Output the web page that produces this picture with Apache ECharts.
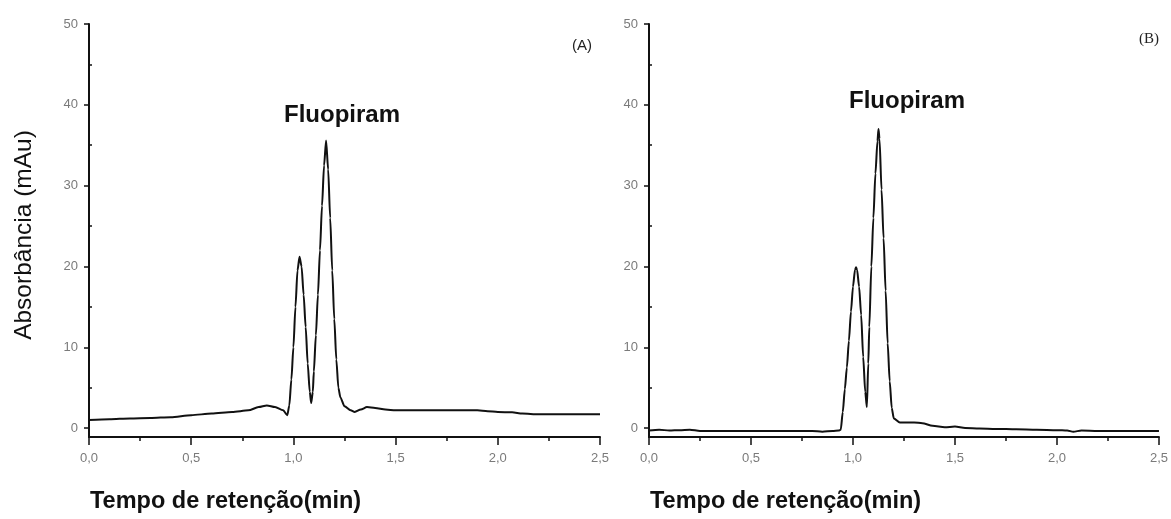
<!DOCTYPE html>
<html>
<head>
<meta charset="utf-8">
<script src="https://cdn.jsdelivr.net/npm/echarts@6/dist/echarts.min.js"></script>
<style>html,body{margin:0;padding:0;background:#fff}#c{width:1171px;height:519px}</style>
</head>
<body>
<div id="c"></div>
<script>
// Chromatogram (A): [retention time (min), absorbance (mAu)]
const seriesA = [
  [0.00,1.0],[0.10,1.1],[0.20,1.2],[0.30,1.25],[0.40,1.35],[0.50,1.6],[0.60,1.8],[0.70,2.0],
  [0.78,2.2],[0.83,2.6],[0.87,2.8],[0.91,2.6],[0.95,2.2],[0.97,1.6],[0.98,2.8],[0.99,6.0],
  [1.00,10.0],[1.01,15.0],[1.02,19.5],[1.03,21.2],[1.04,20.0],[1.05,16.5],[1.06,12.5],[1.07,8.0],
  [1.08,4.5],[1.087,3.1],[1.095,4.5],[1.10,7.0],[1.11,11.5],[1.12,16.5],[1.13,22.0],[1.14,27.5],
  [1.15,32.5],[1.16,35.6],[1.17,32.0],[1.18,26.0],[1.19,19.5],[1.20,13.5],[1.21,8.5],[1.22,5.0],
  [1.23,3.8],[1.25,2.7],[1.28,2.2],[1.30,2.0],[1.33,2.3],[1.36,2.6],[1.40,2.5],[1.45,2.3],
  [1.50,2.2],[1.60,2.2],[1.70,2.2],[1.80,2.2],[1.90,2.2],[1.95,2.1],[2.00,2.0],[2.07,1.95],
  [2.12,1.8],[2.20,1.7],[2.30,1.7],[2.40,1.7],[2.50,1.7]
];
// Chromatogram (B)
const seriesB = [
  [0.00,-0.3],[0.05,-0.2],[0.10,-0.3],[0.15,-0.25],[0.20,-0.2],[0.25,-0.35],[0.40,-0.35],[0.60,-0.35],
  [0.80,-0.35],[0.85,-0.45],[0.90,-0.35],[0.93,-0.3],[0.94,-0.2],[0.95,2.0],[0.96,4.8],[0.97,7.5],
  [0.98,10.8],[0.99,14.4],[1.00,17.5],[1.01,19.6],[1.015,19.9],[1.02,19.6],[1.03,17.5],[1.04,14.0],
  [1.05,8.8],[1.06,4.5],[1.068,2.6],[1.075,8.0],[1.08,12.5],[1.09,20.0],[1.10,26.0],[1.11,31.5],
  [1.12,35.5],[1.125,37.0],[1.13,35.8],[1.14,29.5],[1.15,23.5],[1.16,17.0],[1.17,10.5],[1.18,5.8],
  [1.19,2.5],[1.20,1.2],[1.23,0.7],[1.30,0.7],[1.34,0.6],[1.39,0.3],[1.45,0.1],[1.50,0.2],
  [1.55,0.0],[1.62,-0.05],[1.70,-0.1],[1.80,-0.15],[1.90,-0.2],[2.00,-0.25],[2.05,-0.3],[2.08,-0.45],
  [2.12,-0.3],[2.20,-0.35],[2.35,-0.35],[2.50,-0.35]
];
const yMajorTicks = [0,10,20,30,40,50];
const yMinorTicks = [5,15,25,35,45];
const peakLabel = 'Fluopiram';
const xTitle = 'Tempo de retenção(min)';
const yTitle = 'Absorbância (mAu)';
const panelLabels = ['(A)','(B)'];

const axisCol = '#111';
const labelCol = '#7a7a7a';
const grids = [
  {left:89, top:24, width:511, height:413},
  {left:649, top:24, width:512, height:413}
];
function xAx(i){
  return {
    type:'value', gridIndex:i, min:0, max:2.5, interval:0.5,
    axisLine:{show:true, onZero:false, lineStyle:{color:axisCol, width:2}},
    axisTick:{show:true, length:8, lineStyle:{color:axisCol, width:1.5}},
    minorTick:{show:true, splitNumber:2, length:4, lineStyle:{color:axisCol, width:1.5}},
    axisLabel:{color:labelCol, fontSize:13, fontFamily:'Liberation Sans, Arial', margin:15,
      formatter:v=>v.toFixed(1).replace('.',',')},
    splitLine:{show:false}, minorSplitLine:{show:false}
  };
}
function yMajor(i){
  return {
    type:'value', gridIndex:i, min:-1.1, max:50,
    axisLine:{show:true, onZero:false, lineStyle:{color:axisCol, width:2}},
    axisTick:{show:true, length:5, customValues:yMajorTicks, lineStyle:{color:axisCol, width:1.5}},
    axisLabel:{show:true, customValues:yMajorTicks, color:labelCol, fontSize:13, fontFamily:'Liberation Sans, Arial', margin:11,
      showMinLabel:true, showMaxLabel:true},
    splitLine:{show:false}
  };
}
function yMinor(i){
  return {
    type:'value', gridIndex:i, min:-1.1, max:50,
    axisLine:{show:false},
    axisTick:{show:true, length:3, customValues:yMinorTicks, lineStyle:{color:axisCol, width:1.5}},
    axisLabel:{show:false},
    splitLine:{show:false}
  };
}
const lineStyle = {color:'#111', width:2};
const option = {
  animation:false,
  backgroundColor:'#fff',
  grid:grids,
  xAxis:[xAx(0), xAx(1)],
  yAxis:[yMajor(0), yMinor(0), yMajor(1), yMinor(1)],
  series:[
    {type:'line', xAxisIndex:0, yAxisIndex:0, data:seriesA, showSymbol:false, smooth:0.25, smoothMonotone:'x', lineStyle:lineStyle},
    {type:'line', xAxisIndex:1, yAxisIndex:2, data:seriesB, showSymbol:false, smooth:0.25, smoothMonotone:'x', lineStyle:lineStyle}
  ],
  graphic:[
    {type:'text', left:90, top:490, style:{text:xTitle, font:'bold 23.5px "Liberation Sans", Arial', fill:'#111'}},
    {type:'text', left:650, top:490, style:{text:xTitle, font:'bold 23.5px "Liberation Sans", Arial', fill:'#111'}},
    {type:'text', x:24, y:235, rotation:Math.PI/2, style:{text:yTitle, font:'24.5px "Liberation Sans", Arial', fill:'#111', align:'center', verticalAlign:'middle'}},
    {type:'text', x:342, y:115, style:{text:peakLabel, font:'bold 24px "Liberation Sans", Arial', fill:'#111', align:'center', verticalAlign:'middle'}},
    {type:'text', x:907, y:101, style:{text:peakLabel, font:'bold 24px "Liberation Sans", Arial', fill:'#111', align:'center', verticalAlign:'middle'}},
    {type:'text', x:582, y:46, style:{text:panelLabels[0], font:'15px "Liberation Sans", Arial', fill:'#222', align:'center', verticalAlign:'middle'}},
    {type:'text', x:1149, y:39, style:{text:panelLabels[1], font:'15px "Liberation Serif", "Times New Roman", serif', fill:'#222', align:'center', verticalAlign:'middle'}}
  ]
};
const chart = echarts.init(document.getElementById('c'), null, {renderer:'canvas'});
chart.setOption(option);
</script>
</body>
</html>
